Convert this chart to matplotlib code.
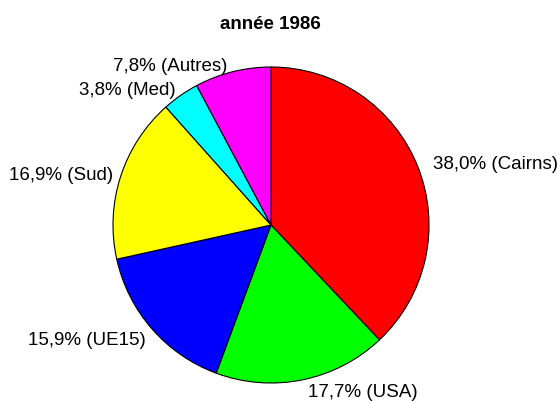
import matplotlib
matplotlib.use("Agg")
import matplotlib.pyplot as plt

plt.rcParams['font.family'] = ['Liberation Sans', 'DejaVu Sans']

categories = ["Cairns", "USA", "UE15", "Sud", "Med", "Autres"]
values = [38.0, 17.7, 15.9, 16.9, 3.8, 7.8]
colors = ["#ff0000", "#00ff00", "#0000ff", "#ffff00", "#00ffff", "#ff00ff"]
title = "année 1986"

# small label nudges (pixels: dx right, dy down) to match the reference layout
label_nudges = [(0, 4), (2, -3), (6, 1), (8, 4), (4, 8), (-2, 10)]

labels = [f"{v:.1f}".replace(".", ",") + f"% ({c})" for c, v in zip(categories, values)]

fig = plt.figure(figsize=(5.59, 4.01), dpi=100)
R = 158
ax = fig.add_axes([113/559, (401-225-R)/401, 2*R/559, 2*R/401])
wedges, texts = ax.pie(values, labels=labels, colors=colors, startangle=90, counterclock=False,
                       labeldistance=1.1,
                       wedgeprops=dict(edgecolor="black", linewidth=0.8),
                       textprops=dict(fontsize=13.5))
for t, (dx, dy) in zip(texts, label_nudges):
    x, y = t.get_position()
    t.set_position((x + dx / R, y - dy / R))
ax.set_xlim(-1, 1)
ax.set_ylim(-1, 1)
ax.set_aspect("equal")
fig.text(270/559, 1-29/401, title, ha="center", va="baseline", fontsize=13.5, fontweight="bold")
fig.savefig("out.png", dpi=100)
